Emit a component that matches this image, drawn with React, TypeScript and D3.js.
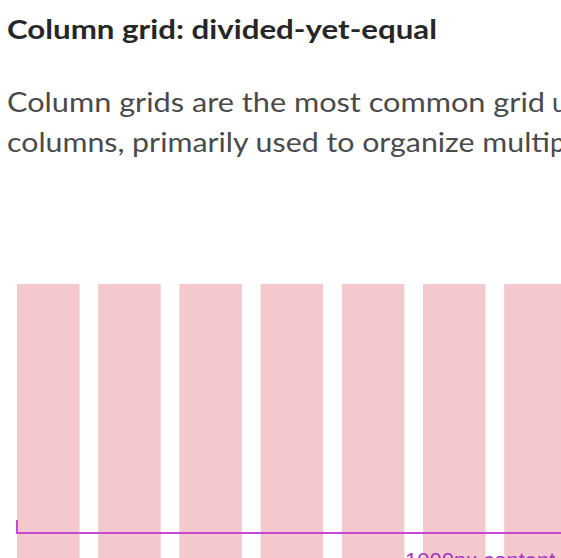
import React, { useEffect, useRef } from 'react';
import * as d3 from 'd3';

// text of the card
const title = 'Column grid: divided-yet-equal';
const bodyLines = [
  ['Column grids are the most common grid', ' used in'],
  ['columns, primarily used to organize multi', 'ple'],
];
const rulerLabel = '1000px content';

// a 12-column grid, only the first few are visible
const columns = d3.range(1, 13).map(String);
const contentWidth = 1000;

const W = 561;
const H = 558;

export default function App() {
  const ref = useRef<SVGSVGElement>(null);

  useEffect(() => {
    const svg = d3.select(ref.current);
    svg.selectAll('*').remove();

    // columns: 62.5px wide on an 81.2px step
    const x = d3.scaleBand<string>()
      .domain(columns)
      .range([17, 17 + columns.length * 81.2 - 18.7])
      .paddingInner(0.23)
      .paddingOuter(0);

    svg.append('g')
      .selectAll('rect')
      .data(columns)
      .join('rect')
      .attr('x', d => x(d)!)
      .attr('y', 284)
      .attr('width', x.bandwidth())
      .attr('height', H - 284)
      .attr('fill', '#f4c9ce');

    // ruler across the content width
    const px = d3.scaleLinear().domain([0, contentWidth]).range([17, 17 + 975]);
    const ruler = svg.append('g');
    ruler.append('path')
      .attr('d', `M${px(0)},520 V533 H${px(contentWidth)}`)
      .attr('fill', 'none')
      .attr('stroke', '#c84ad2')
      .attr('stroke-width', 2);
    ruler.append('text')
      .attr('x', 405)
      .attr('y', 568)
      .attr('font-family', 'Arial, "Liberation Sans", sans-serif')
      .attr('font-size', 22)
      .attr('fill', '#a62fc4')
      .text(rulerLabel);

    // heading
    svg.append('text')
      .attr('x', 7)
      .attr('y', 39)
      .attr('font-family', 'Lato, sans-serif')
      .attr('font-weight', 700)
      .attr('font-size', 27)
      .attr('fill', '#262626')
      .attr('textLength', 430)
      .attr('lengthAdjust', 'spacingAndGlyphs')
      .text(title);

    // paragraph
    const widths = [538, 543];
    bodyLines.forEach((line, i) => {
      const t = svg.append('text')
        .attr('x', 7)
        .attr('y', 112 + i * 40)
        .attr('font-family', 'Lato, sans-serif')
        .attr('font-size', 27)
        .attr('fill', '#4a4a4a');
      t.append('tspan')
        .attr('textLength', widths[i])
        .attr('lengthAdjust', 'spacingAndGlyphs')
        .text(line[0]);
      t.append('tspan').text(line[1]);
    });
  }, []);

  return (
    <svg
      ref={ref}
      width={W}
      height={H}
      style={{ position: 'absolute', left: 0, top: 0, background: '#fff', overflow: 'hidden' }}
    />
  );
}
